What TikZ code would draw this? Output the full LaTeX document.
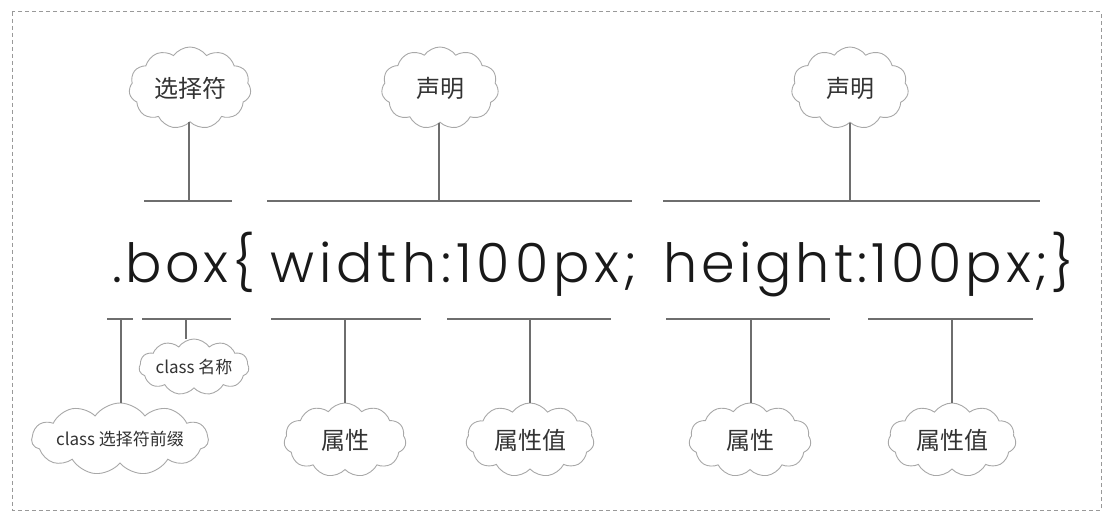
\documentclass[tikz,border=0pt]{standalone}
\usepackage{fontspec}
\usetikzlibrary{shapes.symbols}
\newfontfamily\cjk{Noto Sans CJK SC}
\newfontfamily\codefont{Poppins Light}[LetterSpace=6.5]
\definecolor{linegray}{HTML}{6E6E6E}
\definecolor{cloudgray}{HTML}{A8A8A8}
\definecolor{txt}{HTML}{333333}
\tikzset{
  puff/.style={cloud, cloud puffs=11, cloud puff arc=110, cloud ignores aspect, draw=cloudgray, line width=0.9pt, fill=white, inner sep=0pt, text=txt, font=\cjk\fontsize{24}{26}\selectfont},
  smallpuff/.style={puff, font=\cjk\fontsize{17}{19}\selectfont},
  bracket/.style={draw=linegray, line width=1.8pt},
  stem/.style={draw=linegray, line width=1.6pt},
  code/.style={anchor=base west, inner sep=0pt, text=black!90, font=\codefont\fontsize{54}{60}\selectfont}
}
\begin{document}
\begin{tikzpicture}[x=1pt,y=-1pt]
\useasboundingbox (0,0) rectangle (1112,521);
\draw[gray!80, line width=1pt, dash pattern=on 4pt off 3pt] (12,12) rectangle (1101,510);
% top clouds
\node[puff, minimum width=122pt, minimum height=82pt] (sel) at (190,88) {选择符};
\node[puff, minimum width=117pt, minimum height=82pt] (decl1) at (440,88) {声明};
\node[puff, minimum width=117pt, minimum height=82pt] (decl2) at (850,88) {声明};
% top brackets
\coordinate (a1) at (144,201); \coordinate (a2) at (232,201); \coordinate (am) at (189,201);
\coordinate (b1) at (267,201); \coordinate (b2) at (632,201); \coordinate (bm) at (439,201);
\coordinate (c1) at (663,201); \coordinate (c2) at (1040,201); \coordinate (cm) at (850,201);
\draw[bracket] (a1) -- (a2);
\draw[bracket] (b1) -- (b2);
\draw[bracket] (c1) -- (c2);
\draw[stem] (am |- sel.south) -- (am);
\draw[stem] (bm |- decl1.south) -- (bm);
\draw[stem] (cm |- decl2.south) -- (cm);
% code text
\node[code] (t1) at (112,283) {.box\{};
\node[code] (t2) at (270,283) {\addfontfeature{LetterSpace=9.2}width:100px;};
\node[code] (t3) at (663,283) {\addfontfeature{LetterSpace=7.5}height:100px;\}};
% bottom brackets
\coordinate (d1) at (107,319); \coordinate (d2) at (133,319); \coordinate (dm) at (121,319);
\coordinate (e1) at (142,319); \coordinate (e2) at (231,319); \coordinate (em) at (186,319);
\coordinate (f1) at (271,319); \coordinate (f2) at (421,319); \coordinate (fm) at (345,319);
\coordinate (g1) at (447,319); \coordinate (g2) at (611,319); \coordinate (gm) at (530,319);
\coordinate (h1) at (666,319); \coordinate (h2) at (830,319); \coordinate (hm) at (751,319);
\coordinate (i1) at (868,319); \coordinate (i2) at (1033,319); \coordinate (im) at (952,319);
\foreach \p in {d,e,f,g,h,i} {\draw[bracket] (\p1) -- (\p2);}
% bottom clouds
\node[smallpuff, minimum width=110pt, minimum height=56pt] (cname) at (194,367) {class 名称};
\node[smallpuff, minimum width=174pt, minimum height=72pt] (cpre) at (120,439) {class 选择符前缀};
\node[puff, minimum width=122pt, minimum height=74pt] (p1) at (345,440) {属性};
\node[puff, minimum width=128pt, minimum height=74pt] (v1) at (530,440) {属性值};
\node[puff, minimum width=122pt, minimum height=74pt] (p2) at (750,440) {属性};
\node[puff, minimum width=128pt, minimum height=74pt] (v2) at (952,440) {属性值};
\draw[stem] (dm) -- (dm |- cpre.north);
\draw[stem] (em) -- (em |- cname.north);
\draw[stem] (fm) -- (fm |- p1.north);
\draw[stem] (gm) -- (gm |- v1.north);
\draw[stem] (hm) -- (hm |- p2.north);
\draw[stem] (im) -- (im |- v2.north);
\end{tikzpicture}
\end{document}
